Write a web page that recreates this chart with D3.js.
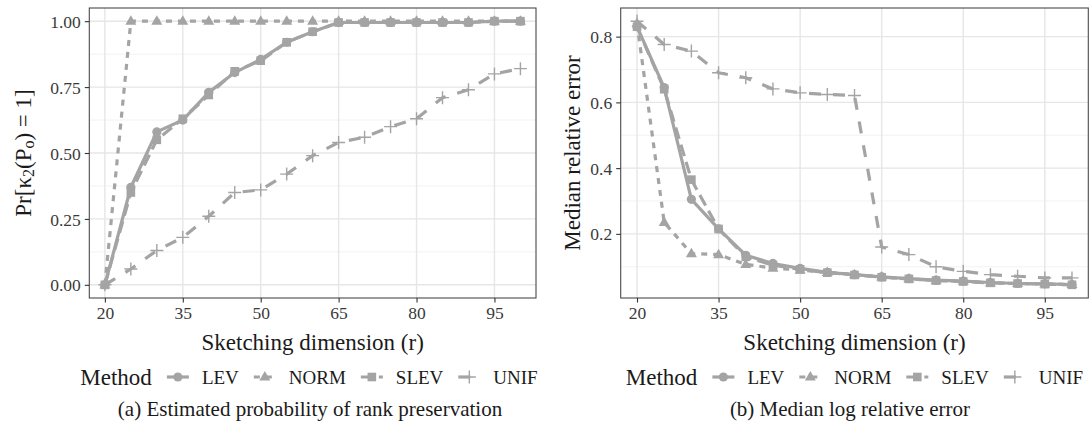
<!DOCTYPE html>
<html><head><meta charset="utf-8">
<script src="https://cdn.jsdelivr.net/npm/d3@7"></script>
<style>
html,body{margin:0;padding:0;background:#fff;}
svg{display:block;font-family:"Liberation Serif","DejaVu Serif",serif;}
</style></head>
<body>
<svg id="chart" width="1090" height="423"></svg>
<script>
// ---------- data ----------
const dims = [20,25,30,35,40,45,50,55,60,65,70,75,80,85,90,95,100];
const methods = ["LEV","NORM","SLEV","UNIF"];
const xTicks = [20,35,50,65,80,95];

const probLEV  = [0,0.37,0.58,0.625,0.73,0.805,0.855,0.92,0.96,0.995,0.995,0.995,0.995,0.995,0.995,1.0,1.0];
const probNORM = [0,1,1,1,1,1,1,1,1,1,1,1,1,1,1,1,1];
const probSLEV = [0,0.35,0.55,0.63,0.72,0.81,0.85,0.92,0.96,0.995,0.995,0.995,0.995,0.995,0.995,1.0,1.0];
const probUNIF = [0,0.06,0.13,0.18,0.26,0.35,0.36,0.42,0.49,0.54,0.56,0.60,0.63,0.71,0.74,0.80,0.82];
const probTicks = [0,0.25,0.5,0.75,1.0];
const probMinor = [0.125,0.375,0.625,0.875];

const errLEV  = [0.83,0.645,0.305,0.215,0.135,0.11,0.095,0.083,0.076,0.069,0.064,0.059,0.056,0.052,0.049,0.048,0.046];
const errNORM = [0.84,0.235,0.14,0.137,0.107,0.096,0.09,0.083,0.076,0.069,0.063,0.058,0.056,0.051,0.049,0.048,0.046];
const errSLEV = [0.83,0.64,0.365,0.215,0.13,0.105,0.092,0.082,0.075,0.068,0.063,0.058,0.055,0.051,0.049,0.047,0.045];
const errUNIF = [0.847,0.776,0.756,0.69,0.675,0.641,0.629,0.624,0.621,0.16,0.137,0.10,0.086,0.076,0.071,0.066,0.066];
const errTicks = [0.2,0.4,0.6,0.8];
const errMinor = [0.1,0.3,0.5,0.7];

// ---------- style ----------
const GREY = "#a4a4a4";
const LW = 3.2;
const dashes = {LEV:null, NORM:"6,6", SLEV:"12,6", UNIF:"12,12"};
const shapes = {LEV:"circle", NORM:"triangle", SLEV:"square", UNIF:"plus"};

const svg = d3.select("#chart");

function drawShape(g, shape, cx, cy){
  if(shape==="circle"){
    g.append("circle").attr("cx",cx).attr("cy",cy).attr("r",4.6).attr("fill",GREY);
  } else if(shape==="triangle"){
    const s=11, h=s*Math.sqrt(3)/2;
    g.append("path").attr("d",`M${cx},${cy-h*0.62}L${cx+s/2},${cy+h*0.38}L${cx-s/2},${cy+h*0.38}Z`).attr("fill",GREY);
  } else if(shape==="square"){
    g.append("rect").attr("x",cx-4.3).attr("y",cy-4.3).attr("width",8.6).attr("height",8.6).attr("fill",GREY);
  } else {
    g.append("path").attr("d",`M${cx-6.5},${cy}H${cx+6.5}M${cx},${cy-6.5}V${cy+6.5}`)
      .attr("stroke",GREY).attr("stroke-width",1.4).attr("fill","none");
  }
}

function panel(opts){
  const {x0,x1,y0,y1,series,yTicks,yMinor,yFmt,yDomain,ylabel,ylabelX,caption,captionX,legendCx} = opts;
  const x = d3.scaleLinear().domain([17,103]).range([x0,x1]);
  const y = d3.scaleLinear().domain(yDomain).range([y1,y0]);
  const g = svg.append("g");
  // grid
  g.selectAll(".minor").data(yMinor).join("line")
    .attr("x1",x0).attr("x2",x1).attr("y1",d=>y(d)).attr("y2",d=>y(d))
    .attr("stroke","#f0f0f0").attr("stroke-width",0.9);
  g.selectAll(".majy").data(yTicks).join("line")
    .attr("x1",x0).attr("x2",x1).attr("y1",d=>y(d)).attr("y2",d=>y(d))
    .attr("stroke","#e6e6e6").attr("stroke-width",1.4);
  g.selectAll(".majx").data(xTicks).join("line")
    .attr("y1",y0).attr("y2",y1).attr("x1",d=>x(d)).attr("x2",d=>x(d))
    .attr("stroke","#e6e6e6").attr("stroke-width",1.4);
  // lines
  const line = d3.line().x((d,i)=>x(dims[i])).y(d=>y(d));
  const clip = g.append("g");
  methods.forEach(m=>{
    clip.append("path").datum(series[m]).attr("d",line)
      .attr("fill","none").attr("stroke",GREY).attr("stroke-width",LW)
      .attr("stroke-dasharray",dashes[m]).attr("stroke-linejoin","round");
  });
  methods.forEach(m=>{
    series[m].forEach((v,i)=>drawShape(clip, shapes[m], x(dims[i]), y(v)));
  });
  // border
  g.append("rect").attr("x",x0).attr("y",y0).attr("width",x1-x0).attr("height",y1-y0)
    .attr("fill","none").attr("stroke","#4a4a4a").attr("stroke-width",1.1);
  // x axis
  const xa = g.append("g").attr("transform",`translate(0,${y1})`)
    .call(d3.axisBottom(x).tickValues(xTicks).tickSize(4.5).tickPadding(4).tickFormat(d3.format("d")));
  xa.select(".domain").remove();
  xa.selectAll("line").attr("stroke","#333").attr("stroke-width",1.1);
  xa.selectAll("text").attr("font-size",17.5).attr("fill","#3a3a3a").attr("font-family","Liberation Serif");
  // y axis
  const ya = g.append("g").attr("transform",`translate(${x0},0)`)
    .call(d3.axisLeft(y).tickValues(yTicks).tickSize(4.5).tickPadding(4).tickFormat(d3.format(yFmt)));
  ya.select(".domain").remove();
  ya.selectAll("line").attr("stroke","#333").attr("stroke-width",1.1);
  ya.selectAll("text").attr("font-size",17.5).attr("fill","#3a3a3a").attr("font-family","Liberation Serif").attr("dy","0.35em");
  // x title
  svg.append("text").attr("x",(x0+x1)/2).attr("y",342).attr("text-anchor","middle")
    .attr("dominant-baseline","central").attr("font-size",23).attr("fill","#1a1a1a")
    .text("Sketching dimension (r)");
  // y title
  const yt = svg.append("text").attr("transform",`translate(${ylabelX},${(y0+y1)/2}) rotate(-90)`)
    .attr("text-anchor","middle").attr("dominant-baseline","central").attr("font-size",23).attr("fill","#1a1a1a");
  ylabel(yt);
  // legend
  const lg = svg.append("g");
  const title = lg.append("text").attr("x",0).attr("y",377).attr("dominant-baseline","central")
    .attr("font-size",23).attr("fill","#1a1a1a").text("Method");
  let cx = title.node().getComputedTextLength() + 15;
  methods.forEach(m=>{
    const kg = lg.append("g");
    kg.append("line").attr("x1",cx).attr("x2",cx+22).attr("y1",377).attr("y2",377)
      .attr("stroke",GREY).attr("stroke-width",LW).attr("stroke-dasharray",dashes[m]);
    drawShape(kg, shapes[m], cx+11, 377);
    cx += 22 + 13;
    const t = lg.append("text").attr("x",cx).attr("y",377).attr("dominant-baseline","central")
      .attr("font-size",19).attr("fill","#1a1a1a").text(m);
    cx += t.node().getComputedTextLength() + 15;
  });
  const lw = cx - 15;
  lg.attr("transform",`translate(${legendCx - lw/2},0)`);
  // caption
  svg.append("text").attr("x",captionX).attr("y",409).attr("text-anchor","middle")
    .attr("dominant-baseline","central").attr("font-size",21).attr("fill","#1a1a1a").text(caption);
}

function expand(arrs){
  const all = arrs.flat();
  const lo = d3.min(all), hi = d3.max(all), r = hi-lo;
  return [lo-0.05*r, hi+0.05*r];
}

panel({
  x0:89.3, x1:536, y0:8, y1:298,
  series:{LEV:probLEV, NORM:probNORM, SLEV:probSLEV, UNIF:probUNIF},
  yTicks:probTicks, yMinor:probMinor, yFmt:".2f",
  yDomain:expand([probLEV,probNORM,probSLEV,probUNIF]),
  ylabelX:23,
  ylabel:(t)=>{
    t.append("tspan").text("Pr[κ");
    t.append("tspan").attr("font-size",16).attr("dy",5).text("2");
    t.append("tspan").attr("dy",-5).text("(P");
    t.append("tspan").attr("font-size",16).attr("dy",5).text("o");
    t.append("tspan").attr("dy",-5).text(") = 1]");
  },
  caption:"(a) Estimated probability of rank preservation", captionX:310, legendCx:309
});

panel({
  x0:620.7, x1:1088.3, y0:8, y1:298,
  series:{LEV:errLEV, NORM:errNORM, SLEV:errSLEV, UNIF:errUNIF},
  yTicks:errTicks, yMinor:errMinor, yFmt:".1f",
  yDomain:expand([errLEV,errNORM,errSLEV,errUNIF]),
  ylabelX:572,
  ylabel:(t)=>{ t.text("Median relative error"); },
  caption:"(b) Median log relative error", captionX:850, legendCx:854.5
});
</script>
</body></html>
